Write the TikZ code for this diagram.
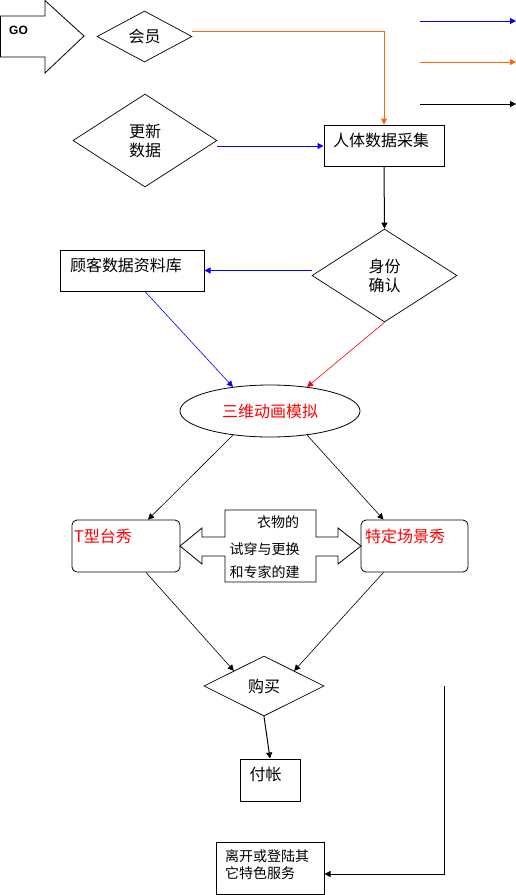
\documentclass[tikz,border=0pt]{standalone}
\usepackage{fontspec}
\setmainfont{Noto Sans CJK SC}
\newfontfamily\gofont{Liberation Sans}
\usetikzlibrary{shapes.geometric,arrows.meta,calc}
\definecolor{flowblue}{RGB}{0,0,255}
\definecolor{floworange}{RGB}{255,102,0}
\definecolor{flowred}{RGB}{255,0,0}

\begin{document}
\begin{tikzpicture}[x=1pt,y=-1pt,
  every node/.style={font=\fontsize{16}{19}\selectfont, inner sep=0pt},
  small/.style={font=\fontsize{14}{17}\selectfont},
  box/.style={draw, line width=1pt},
  rbox/.style={draw, line width=0.8pt, rounded corners=5pt},
  decide/.style={draw, diamond, line width=0.7pt, align=center},
  flow/.style={line width=1pt, -{Triangle[length=6pt,width=6pt]}},
  thin flow/.style={line width=0.6pt, -{Triangle[length=6pt,width=6pt]}}]
\useasboundingbox (0,0) rectangle (516,895);

% GO arrow
\draw[line width=0.8pt] (0.5,16) -- (45,16) -- (45,0.5) -- (84,36) -- (45,73) -- (45,57) -- (0.5,57) -- cycle;
\node (go) at (18.5,30) {\gofont\bfseries\fontsize{12}{14}\selectfont GO};

% legend
\coordinate (legbluea) at (420,21);
\coordinate (legblueb) at (516,21);
\coordinate (legorangea) at (420,62);
\coordinate (legorangeb) at (516,62);
\coordinate (legblacka) at (420,104);
\coordinate (legblackb) at (516,104);
\draw[flow, color=flowblue] (legbluea) -- (legblueb);
\draw[flow, color=floworange] (legorangea) -- (legorangeb);
\draw[flow] (legblacka) -- (legblackb);

% top part
\node[decide, minimum width=95, minimum height=51] (member) at (144.5,36.5) {会员};
\node[decide, minimum width=144, minimum height=93] (update) at (145,140.5) {更新\\数据};
\node[box, minimum width=120, minimum height=41] (collect) at (384,145.5) {};
\node (collecttext) at (381,140) {人体数据采集};
\node[decide, minimum width=145, minimum height=93] (identity) at (384.5,275.5) {身份\\确认};
\node[box, minimum width=144, minimum height=41] (db) at (132,270.5) {};
\node (dbtext) at (126,265) {顾客数据资料库};

% simulation
\node[draw, ellipse, line width=0.8pt, minimum width=180, minimum height=52, text=flowred] (sim) at (270,411) {三维动画模拟};

% shows
\node[rbox, minimum width=108, minimum height=52] (tshow) at (126,546) {};
\node[anchor=west, text=flowred] (tshowtext) at (74,536) {T型台秀};
\node[rbox, minimum width=107, minimum height=52] (scene) at (414.5,546) {};
\node[anchor=west, text=flowred] (scenetext) at (365,536) {特定场景秀};

% fitting double arrow
\draw[line width=0.8pt] (225,510) -- (316,510) -- (316,537) -- (338,537) -- (338,528) -- (361,546)
  -- (338,564) -- (338,556) -- (316,556) -- (316,582) -- (225,582) -- (225,556) -- (202,556)
  -- (202,564) -- (180,546) -- (202,528) -- (202,537) -- (225,537) -- cycle;
\node[small] (fit1) at (278,522) {衣物的};
\node[small] (fit2) at (264.5,549) {试穿与更换};
\node[small] (fit3) at (264.5,572) {和专家的建};

% bottom part
\node[decide, minimum width=120, minimum height=60] (buy) at (264,686) {购买};
\node[box, minimum width=60, minimum height=42] (pay) at (270,780) {};
\node (paytext) at (265.5,774.5) {付帐};
\node[box, minimum width=108, minimum height=52] (leave) at (270,868) {};
\node[small, anchor=west, align=left] (leavetext) at (225,864.5) {离开或登陆其\\它特色服务};
\coordinate (backtop) at (444,686);

% connectors
\draw[flow, color=floworange] ([shift={(0,-5.5)}]member.east) -| (collect.north);
\draw[flow, color=flowblue] ([shift={(0,5.5)}]update.east) -- ([shift={(0,5.5)}]update.east -| collect.west);
\draw[flow] (collect.south) -- (identity.north);
\draw[flow, color=flowblue] (identity.west |- db.east) -- (db.east);
\draw[thin flow, color=flowblue] ([shift={(13,0)}]db.south) -- (sim.147);
\draw[thin flow, color=flowred] (identity.south) -- (sim.33);
\draw[thin flow] (sim.213) -- ([shift={(22,0)}]tshow.north);
\draw[thin flow] (sim.327) -- ([shift={(-31,0)}]scene.north);
\draw[thin flow] ([shift={(20,0)}]tshow.south) -- (buy.north west);
\draw[thin flow] ([shift={(-31,0)}]scene.south) -- (buy.north east);
\draw[flow] (buy.south) -- (pay.north);
\draw[flow] (backtop) |- ([shift={(0,6)}]leave.east);
\end{tikzpicture}
\end{document}
